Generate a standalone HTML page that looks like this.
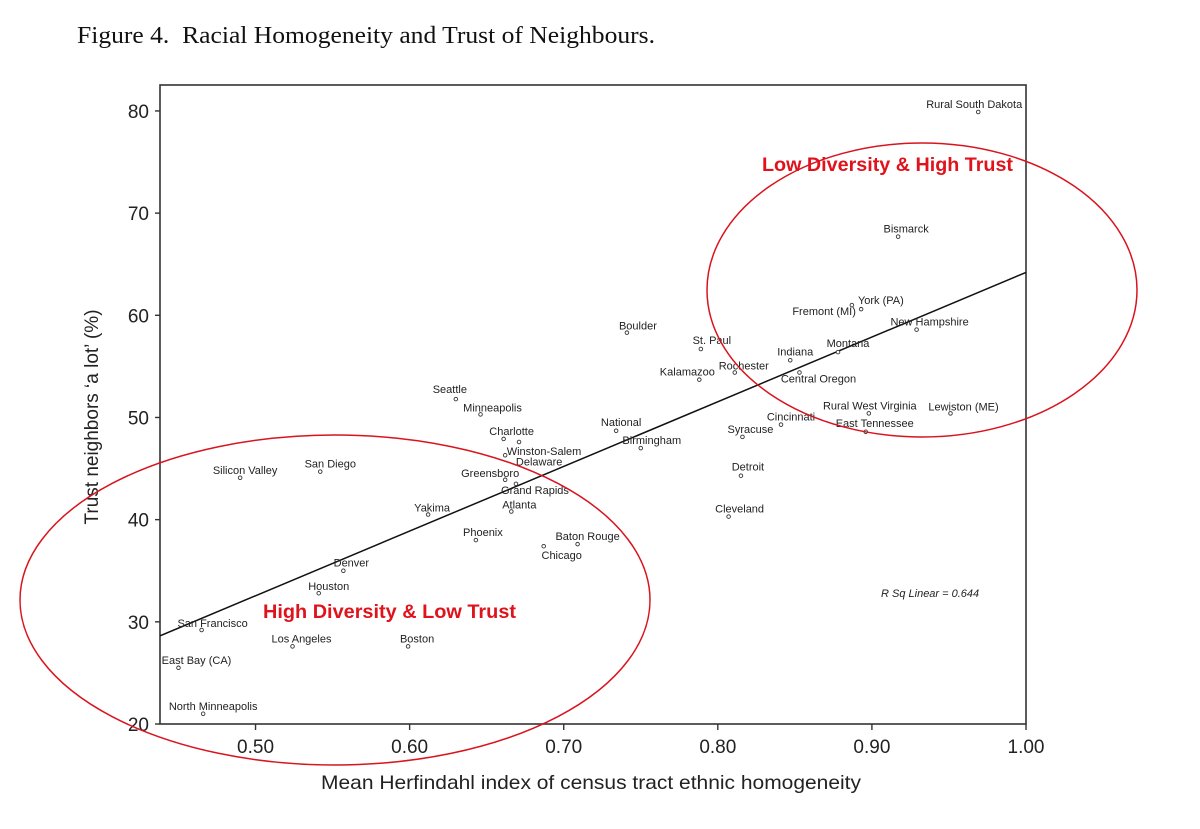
<!DOCTYPE html>
<html><head><meta charset="utf-8"><style>
html,body{margin:0;padding:0;background:#fff;}
svg{display:block;}
</style></head><body>
<svg id="chart" width="1200" height="829" viewBox="0 0 1200 829" xmlns="http://www.w3.org/2000/svg" font-family="Liberation Sans, sans-serif">
<text x="77" y="43" font-family="Liberation Serif, serif" font-size="24" fill="#111" textLength="578" lengthAdjust="spacingAndGlyphs">Figure 4.&#160; Racial Homogeneity and Trust of Neighbours.</text>
<g id="plot"></g>
</svg>
<script>
const cities = ["Rural South Dakota","Bismarck","York (PA)","Fremont (MI)","New Hampshire","Montana","Indiana","Central Oregon","Rochester","St. Paul","Kalamazoo","Boulder","Rural West Virginia","Lewiston (ME)","East Tennessee","Cincinnati","Syracuse","National","Birmingham","Detroit","Cleveland","Seattle","Minneapolis","Charlotte","Winston-Salem","Delaware","Greensboro","Grand Rapids","Atlanta","Yakima","Phoenix","Chicago","Baton Rouge","Silicon Valley","San Diego","Denver","Houston","San Francisco","Los Angeles","Boston","East Bay (CA)","North Minneapolis"];
const homogeneity = [0.969,0.917,0.887,0.893,0.929,0.878,0.847,0.853,0.811,0.789,0.788,0.741,0.898,0.951,0.896,0.841,0.816,0.734,0.750,0.815,0.807,0.630,0.646,0.661,0.671,0.662,0.662,0.669,0.666,0.612,0.643,0.687,0.709,0.490,0.542,0.557,0.541,0.465,0.524,0.599,0.450,0.466];
const trust = [79.9,67.7,61.0,60.6,58.6,56.4,55.6,54.4,54.4,56.7,53.7,58.3,50.4,50.4,48.6,49.3,48.1,48.7,47.0,44.3,40.3,51.8,50.3,47.9,47.6,46.3,43.9,43.5,40.8,40.5,38.0,37.4,37.6,44.1,44.7,35.0,32.8,29.2,27.6,27.6,25.5,21.0];
const xTicks = [0.50,0.60,0.70,0.80,0.90,1.00];
const yTicks = [20,30,40,50,60,70,80];
const fitSlope = 63.3;
const fitIntercept = 0.9;
const rSquared = "0.644";

const labelOffsets = [[-4,-4],[8,-4],[29,-1],[-37,6],[13,-4],[10,-5],[5,-5],[19,10],[9,-3],[11,-5],[-12,-4],[11,-3],[1,-4],[13,-3],[9,-5],[10,-4],[8,-4],[5,-5],[11,-4],[7,-5],[11,-4],[-6,-6],[12,-3],[8,-4],[25,13],[34,10],[-15,-3],[19,10],[8,-3],[4,-3],[7,-4],[18,13],[10,-4],[5,-4],[10,-4],[8,-4],[10,-3],[11,-3],[9,-4],[9,-4],[18,-4],[10,-4]];

const L=160,R=1026,T=85,B=724;
const xMin=0.438,xMax=1.0,yMin=20,yMax=82.54;
const xs=v=>L+(v-xMin)/(xMax-xMin)*(R-L);
const ys=v=>B-(v-yMin)/(yMax-yMin)*(B-T);
const NS="http://www.w3.org/2000/svg";
const plot=document.getElementById('plot');
function mk(tag,attrs,parent){const e=document.createElementNS(NS,tag);for(const k in attrs)e.setAttribute(k,attrs[k]);(parent||plot).appendChild(e);return e;}

let frame=mk('rect',{x:L,y:T,width:R-L,height:B-T,fill:'none',stroke:'#333','stroke-width':1.6});



xTicks.forEach(t=>{
  let ln=mk('line',{x1:xs(t),x2:xs(t),y1:B,y2:B+6,stroke:'#333','stroke-width':1.4});
  
  
  let tx=mk('text',{x:xs(t),y:B+29,'text-anchor':'middle','font-size':19,fill:'#222'});
  tx.textContent=t.toFixed(2);
  
  
});
yTicks.forEach(t=>{
  let ln=mk('line',{x1:L-5,x2:L,y1:ys(t),y2:ys(t),stroke:'#333','stroke-width':1.4});
  
  
  let tx=mk('text',{x:L-11,y:ys(t)+7,'text-anchor':'end','font-size':19,fill:'#222'});
  tx.textContent=t;
  
  
});
let xt=mk('text',{x:321,y:789,'font-size':19.5,fill:'#222',textLength:540,lengthAdjust:'spacingAndGlyphs'});
xt.textContent='Mean Herfindahl index of census tract ethnic homogeneity';


let yt=mk('text',{x:0,y:0,'text-anchor':'middle','font-size':19,fill:'#222',transform:'translate(98,417) rotate(-90)'});
yt.textContent='Trust neighbors ‘a lot’ (%)';



let fit=mk('line',{x1:L,y1:ys(fitIntercept+fitSlope*xMin),x2:R,y2:ys(fitIntercept+fitSlope*xMax),stroke:'#111','stroke-width':1.5});



cities.forEach((c,i)=>{
  const px=xs(homogeneity[i]),py=ys(trust[i]);
  let pt=mk('circle',{cx:px,cy:py,r:1.8,fill:'#fff',stroke:'#333','stroke-width':0.9});
  
  
  let lb=mk('text',{x:px+labelOffsets[i][0],y:py+labelOffsets[i][1],'text-anchor':'middle','font-size':11,fill:'#222'});
  lb.textContent=c;
  
  
});

let rs=mk('text',{x:881,y:597,'font-size':11,'font-style':'italic',fill:'#222'});
rs.textContent='R Sq Linear = '+rSquared;



let e1=mk('ellipse',{cx:922,cy:290,rx:215,ry:147,fill:'none',stroke:'#d9141e','stroke-width':1.5});


let e2=mk('ellipse',{cx:335,cy:600,rx:315,ry:165,fill:'none',stroke:'#d9141e','stroke-width':1.5});


let a1=mk('text',{x:762,y:171,'font-size':19,'font-weight':'bold',fill:'#e0121c',textLength:251,lengthAdjust:'spacingAndGlyphs'});
a1.textContent='Low Diversity & High Trust';


let a2=mk('text',{x:263,y:618,'font-size':19,'font-weight':'bold',fill:'#e0121c',textLength:253,lengthAdjust:'spacingAndGlyphs'});
a2.textContent='High Diversity & Low Trust';


</script>
</body></html>
